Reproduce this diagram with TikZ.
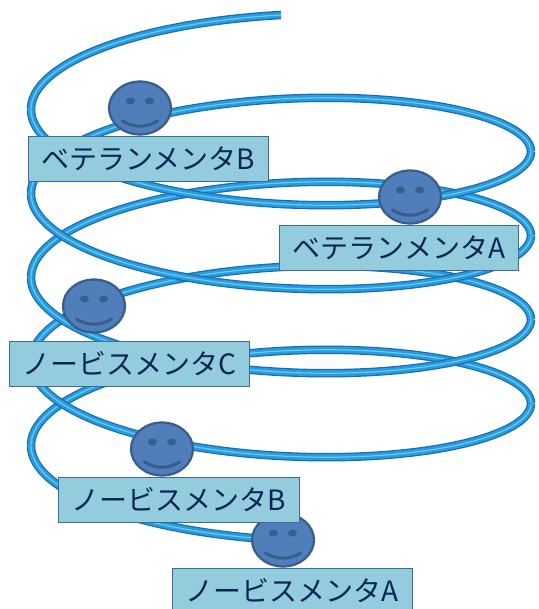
\documentclass[tikz,border=0pt]{standalone}
\usepackage{fontspec}
\newfontfamily\jpfont{Noto Sans CJK JP}
\usepackage{tikz}
\usetikzlibrary{shapes.geometric,positioning}
\definecolor{tubedark}{HTML}{1A6BB0}
\definecolor{tubemid}{HTML}{279DDF}
\definecolor{tubelight}{HTML}{6CC9F2}
\definecolor{facefill}{HTML}{4F7EBB}
\definecolor{faceline}{HTML}{385D8A}
\definecolor{boxfill}{HTML}{93CDDD}
\definecolor{boxline}{HTML}{3C6A9A}
\definecolor{boxtext}{HTML}{0C2557}
\tikzstyle{face} = [ellipse, draw=faceline, fill=facefill, line width=2.2pt,
    minimum width=62pt, minimum height=53pt, inner sep=0pt]
\tikzstyle{mentor} = [rectangle, draw=boxline, fill=boxfill, line width=1pt,
    text=boxtext, font=\jpfont\fontsize{28}{28}\selectfont, inner xsep=13pt,
    minimum height=45pt]
% one piece of the coil, angles in degrees
\newcommand{\coil}[2]{%
  \foreach \w/\c in {8.5/tubedark,6/tubemid,1.2/tubelight}
    \draw[\c, line width=\w pt] plot[domain=#1:#2, samples=60, smooth, variable=\t]
      ({281-250*sin(\t)}, {88.5+0.2333333*\t-73.5*cos(\t)});
}

\begin{document}
\begin{tikzpicture}[x=1pt, y=-1pt]
  \useasboundingbox (0,0) rectangle (538,609);
   % Draw the coil: back halves first, then front halves
    \foreach \a/\b in {0/90, 270/450, 630/810, 990/1170, 1350/1530}
      {\coil{\a}{\b}}
    \foreach \a/\b in {90/270, 450/630, 810/990, 1170/1350, 1530/1620}
      {\coil{\a}{\b}}
   % Place faces
    \foreach \nm/\px/\py in {vetB/140/108, vetA/410/197, novC/94/306, novB/162/449, novA/283/540} {
      \node [face] (\nm) at (\px,\py) {};
      \fill [faceline] ({\px-9.5},{\py-7}) ellipse [x radius=4.5pt, y radius=3.5pt];
      \fill [faceline] ({\px+9.5},{\py-7}) ellipse [x radius=4.5pt, y radius=3.5pt];
      \draw [faceline, line width=3pt, line cap=round] ({\px-17.5},{\py+13})
        .. controls ({\px-6},{\py+20}) and ({\px+6},{\py+20}) .. ({\px+17.5},{\py+13});
    }
   % Place labels
    \node [mentor, below=0pt of vetB, xshift=8.5pt] (lvetB) {ベテランメンタB};
    \node [mentor, below=0pt of vetA, xshift=-11pt] (lvetA) {ベテランメンタA};
    \node [mentor, below=7pt of novC, xshift=35.5pt] (lnovC) {ノービスメンタC};
    \node [mentor, below=0pt of novB, xshift=17pt] (lnovB) {ノービスメンタB};
    \node [mentor, below=0pt of novA, xshift=9.5pt] (lnovA) {ノービスメンタA};
\end{tikzpicture}
\end{document}
